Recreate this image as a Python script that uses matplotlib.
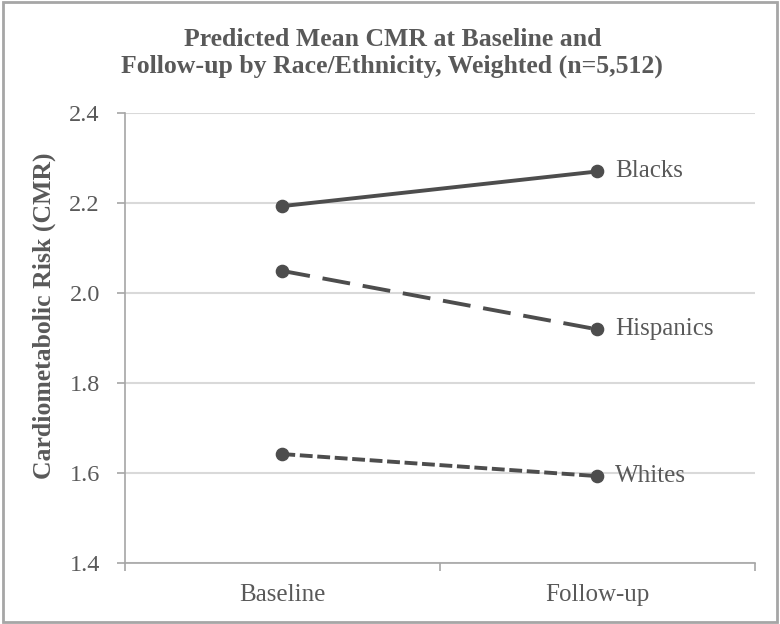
import matplotlib.pyplot as plt
from matplotlib.patches import Rectangle

# data
timepoints = ["Baseline", "Follow-up"]
groups = ["Blacks", "Hispanics", "Whites"]
blacks = [2.193, 2.270]
hispanics = [2.049, 1.919]
whites = [1.642, 1.593]
y_ticks = [1.4, 1.6, 1.8, 2.0, 2.2, 2.4]

plt.rcParams['font.family'] = ['Liberation Serif', 'DejaVu Serif']
grey = "#595959"
line_col = "#4d4d4d"

fig = plt.figure(figsize=(7.8, 6.24), dpi=100)
ax = fig.add_axes([0.160, 0.0978, 0.808, 0.7212])

x = list(range(len(timepoints)))
styles = {
    "Blacks": (blacks, "-"),
    "Hispanics": (hispanics, (0, (7.2, 3.3))),
    "Whites": (whites, (0, (3.3, 1.2))),
}
for name in groups:
    vals, ls = styles[name]
    ax.plot(x, vals, color=line_col, linewidth=2.8, linestyle=ls,
            marker="o", markersize=8.8, zorder=3)
    ax.text(x[-1] + 0.055, vals[-1], name, fontsize=18, color=grey,
            va="center", ha="left")

ax.set_xlim(-0.5, 1.5)
ax.set_ylim(1.4, 2.4)
ax.set_yticks(y_ticks)
ax.set_yticklabels([f"{v:.1f}" for v in y_ticks], fontsize=17.5, color=grey)
ax.set_xticks([-0.5, 0.5, 1.5])
ax.set_xticklabels([])
ax.set_xticks(x, minor=True)
ax.set_xticklabels(timepoints, minor=True, fontsize=18, color=grey)
ax.tick_params(axis="x", which="minor", length=0, pad=15)
ax.tick_params(axis="x", which="major", length=6, color="#a6a6a6", width=1.2)
ax.tick_params(axis="y", length=6, color="#a6a6a6", width=1.2, pad=12)

ax.grid(axis="y", color="#d9d9d9", linewidth=1.5)
ax.set_axisbelow(True)
for s in ["top", "right"]:
    ax.spines[s].set_visible(False)
for s in ["left", "bottom"]:
    ax.spines[s].set_color("#a6a6a6")
    ax.spines[s].set_linewidth(1.2)

fig.text(44 / 780, 1 - 316 / 624, "Cardiometabolic Risk (CMR)", rotation=90,
         ha="center", va="center", fontsize=18.5, fontweight="bold", color=grey)

fig.text(0.503, 0.915, "Predicted Mean CMR at Baseline and\nFollow-up by Race/Ethnicity, Weighted (n=5,512)",
         ha="center", va="center", fontsize=18.5, fontweight="bold", color=grey,
         linespacing=1.2)

# outer grey frame
fig.patches.append(Rectangle((0.004, 0.004), 0.992, 0.992, transform=fig.transFigure,
                             fill=False, edgecolor="#a6a6a6", linewidth=2))

fig.savefig("out.png", dpi=100)
